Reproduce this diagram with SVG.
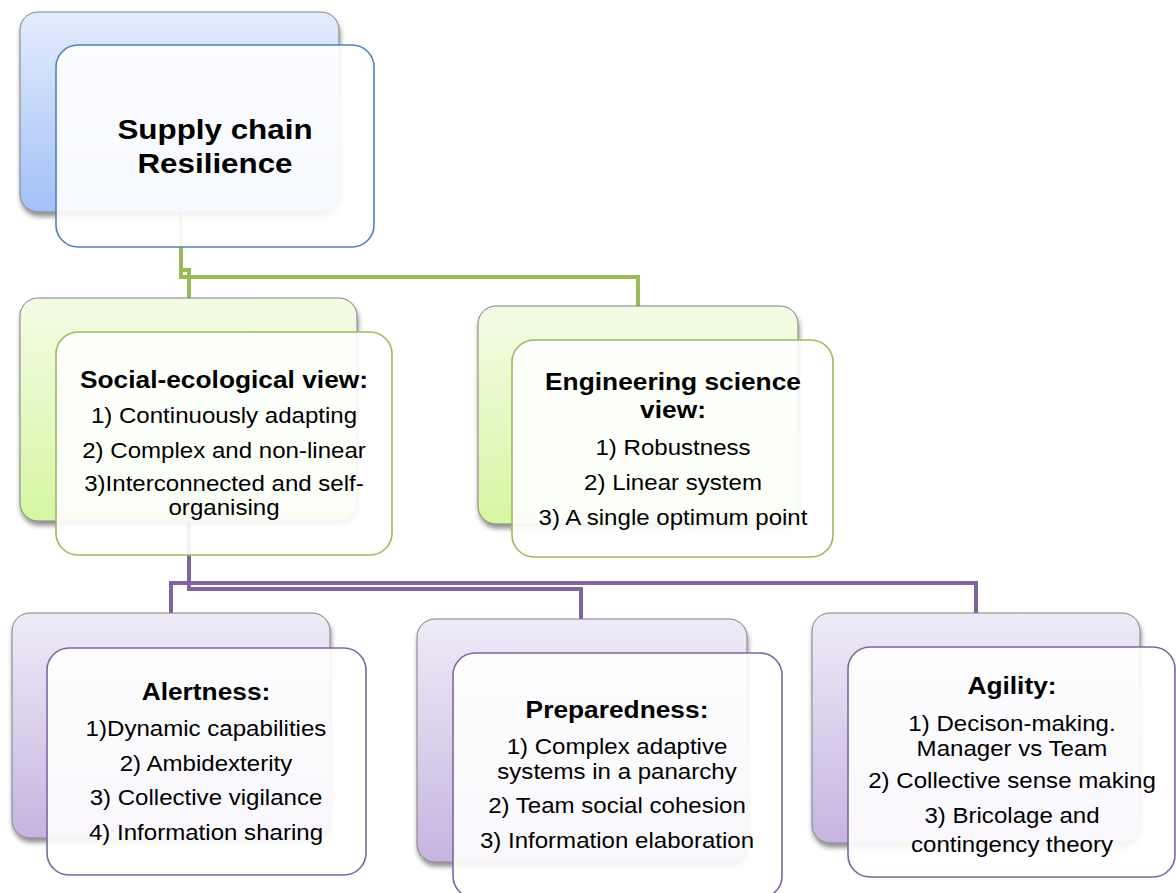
<svg xmlns="http://www.w3.org/2000/svg" width="1176" height="893" viewBox="0 0 1176 893">
<defs>
<linearGradient id="gBlue" x1="0" y1="0" x2="0" y2="1"><stop offset="0" stop-color="#e3ecfc"/><stop offset="1" stop-color="#a3c0f7"/></linearGradient>
<linearGradient id="gGreen" x1="0" y1="0" x2="0" y2="1"><stop offset="0" stop-color="#f3fce6"/><stop offset="1" stop-color="#d6f6a2"/></linearGradient>
<linearGradient id="gPurple" x1="0" y1="0" x2="0" y2="1"><stop offset="0" stop-color="#efebf7"/><stop offset="1" stop-color="#c5b5df"/></linearGradient>
<filter id="sh" x="-10%" y="-10%" width="125%" height="130%"><feGaussianBlur in="SourceAlpha" stdDeviation="2.5"/><feOffset dx="1" dy="4"/><feComponentTransfer><feFuncA type="linear" slope="0.45"/></feComponentTransfer><feMerge><feMergeNode/><feMergeNode in="SourceGraphic"/></feMerge></filter>
</defs>
<style>
.back{stroke:#808080;stroke-width:1;filter:url(#sh)}
.front{fill:#ffffff;fill-opacity:0.9;stroke-width:1.6}
.t{font-family:"Liberation Sans",Arial,sans-serif;fill:#000;text-anchor:middle}
.title{font-size:28px;font-weight:bold}
.h{font-size:23.5px;font-weight:bold}
.b{font-size:21.5px}
.cg{fill:none;stroke:#9bbb59;stroke-width:4}
.cp{fill:none;stroke:#8064a2;stroke-width:4}
</style>
<rect width="1176" height="893" fill="#ffffff"/>
<g id="connectors">
<path class="cg" d="M181,212 V277 H638 V306"/>
<path class="cg" d="M181,212 V270 H189 V298"/>
<path class="cp" d="M189,521 V583 H171 V613"/>
<path class="cp" d="M189,521 V589 H581 V619"/>
<path class="cp" d="M189,521 V583 H976 V613"/>
</g>
<g id="node-root">
<rect class="back" x="20" y="12" width="319" height="200" rx="18" fill="url(#gBlue)"/>
<rect class="front" x="56" y="45" width="318" height="202" rx="22" stroke="#4f81bd"/>
<g class="t title" transform="translate(215,0) scale(1.12,1)"><text x="0" y="139">Supply chain</text><text x="0" y="173">Resilience</text></g>
</g>
<g id="node-social">
<rect class="back" x="20" y="298" width="337" height="223" rx="18" fill="url(#gGreen)"/>
<rect class="front" x="56" y="332" width="336" height="223" rx="22" stroke="#9bbb59"/>
<g class="t" transform="translate(224,0) scale(1.12,1)"><text class="h" x="0" y="388">Social-ecological view:</text><text class="b" x="0" y="423">1) Continuously adapting</text><text class="b" x="0" y="458">2) Complex and non-linear</text><text class="b" x="0" y="491">3)Interconnected and self-</text><text class="b" x="0" y="515">organising</text></g>
</g>
<g id="node-engineering">
<rect class="back" x="478" y="306" width="320" height="218" rx="18" fill="url(#gGreen)"/>
<rect class="front" x="512" y="340" width="321" height="217" rx="22" stroke="#9bbb59"/>
<g class="t" transform="translate(673,0) scale(1.12,1)"><text class="h" x="0" y="390">Engineering science</text><text class="h" x="0" y="418">view:</text><text class="b" x="0" y="455">1) Robustness</text><text class="b" x="0" y="490">2) Linear system</text><text class="b" x="0" y="525">3) A single optimum point</text></g>
</g>
<g id="node-alertness">
<rect class="back" x="12" y="613" width="318" height="225" rx="18" fill="url(#gPurple)"/>
<rect class="front" x="47" y="648" width="319" height="227" rx="22" stroke="#8064a2"/>
<g class="t" transform="translate(206,0) scale(1.12,1)"><text class="h" x="0" y="700">Alertness:</text><text class="b" x="0" y="736">1)Dynamic capabilities</text><text class="b" x="0" y="771">2) Ambidexterity</text><text class="b" x="0" y="805">3) Collective vigilance</text><text class="b" x="0" y="840">4) Information sharing</text></g>
</g>
<g id="node-preparedness">
<rect class="back" x="417" y="619" width="330" height="243" rx="18" fill="url(#gPurple)"/>
<rect class="front" x="453" y="653" width="329" height="245" rx="22" stroke="#8064a2"/>
<g class="t" transform="translate(617,0) scale(1.12,1)"><text class="h" x="0" y="718">Preparedness:</text><text class="b" x="0" y="754">1) Complex adaptive</text><text class="b" x="0" y="779">systems in a panarchy</text><text class="b" x="0" y="813">2) Team social cohesion</text><text class="b" x="0" y="848">3) Information elaboration</text></g>
</g>
<g id="node-agility">
<rect class="back" x="812" y="613" width="328" height="230" rx="18" fill="url(#gPurple)"/>
<rect class="front" x="848" y="647" width="327" height="230" rx="22" stroke="#8064a2"/>
<g class="t" transform="translate(1012,0) scale(1.12,1)"><text class="h" x="0" y="694">Agility:</text><text class="b" x="0" y="731">1) Decison-making.</text><text class="b" x="0" y="756">Manager vs Team</text><text class="b" x="0" y="788">2) Collective sense making</text><text class="b" x="0" y="823">3) Bricolage and</text><text class="b" x="0" y="852">contingency theory</text></g>
</g>
</svg>
